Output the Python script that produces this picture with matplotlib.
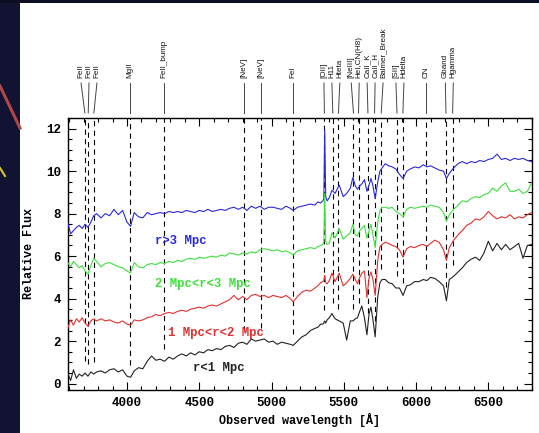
import numpy as np
import matplotlib
matplotlib.use("Agg")
import matplotlib.pyplot as plt
from matplotlib.ticker import MultipleLocator
from matplotlib.transforms import blended_transform_factory
from matplotlib.patches import Rectangle
from matplotlib.lines import Line2D

# ---------------- data ----------------
wavelength = [
    3590, 3610, 3630, 3650, 3670, 3690, 3710, 3730, 3750, 3770,
    3790, 3820, 3850, 3880, 3910, 3940, 3970, 4000, 4025, 4050,
    4080, 4110, 4140, 4170, 4200, 4230, 4260, 4290, 4320, 4350,
    4380, 4410, 4440, 4470, 4500, 4530, 4560, 4590, 4620, 4650,
    4680, 4710, 4740, 4770, 4800, 4830, 4860, 4890, 4920, 4950,
    4980, 5010, 5040, 5070, 5100, 5130, 5150, 5180, 5210, 5240,
    5270, 5300, 5320, 5340, 5355, 5362, 5368, 5375, 5385, 5400,
    5418, 5440, 5468, 5496, 5520, 5545, 5563, 5580, 5595, 5610,
    5625, 5643, 5660, 5675, 5688, 5702, 5717, 5735, 5750, 5765,
    5787, 5810, 5835, 5860, 5885, 5910, 5935, 5960, 5990, 6020,
    6050, 6075, 6100, 6130, 6160, 6190, 6210, 6230, 6260, 6290,
    6320, 6350, 6380, 6410, 6440, 6470, 6500, 6530, 6560, 6590,
    6620, 6650, 6680, 6710, 6740, 6770, 6800,
]

flux_gt3 = [  # r>3 Mpc (blue)
    7.6, 7.05, 7.2, 7.35, 7.45, 7.3, 7.5, 7.35, 7.6, 7.9,
    8.0, 7.8, 8.0, 7.9, 8.2, 7.95, 8.15, 7.6, 7.4, 8.05,
    7.85, 7.8, 8.05, 7.95, 8.0, 8.05, 8.0, 8.1, 8.05, 8.1,
    8.05, 8.15, 8.1, 8.05, 8.15, 8.1, 8.2, 8.1, 8.15, 8.2,
    8.15, 8.25, 8.3, 8.2, 8.3, 8.15, 8.35, 8.25, 8.35, 8.2,
    8.3, 8.3, 8.25, 8.2, 8.35, 8.25, 8.15, 8.3, 8.35, 8.4,
    8.45, 8.4, 8.55, 8.5, 8.6, 8.7, 11.95, 8.8, 8.6, 8.75,
    9.1, 8.95, 9.35, 8.8, 8.95, 9.2, 9.7, 9.3, 9.15, 9.3,
    9.4, 9.6, 9.05, 9.35, 9.65, 9.3, 8.7, 9.5, 10.0, 10.15,
    10.35, 10.25, 10.2, 10.1, 9.85, 9.65, 10.0, 10.1, 10.2, 10.15,
    10.3, 10.2, 10.25, 10.15, 10.05, 10.0, 9.65, 9.9, 10.15, 10.35,
    10.45, 10.35, 10.45, 10.4, 10.5, 10.45, 10.55, 10.6, 10.8, 10.55,
    10.6, 10.5, 10.6, 10.55, 10.6, 10.5, 10.45,
]

flux_2to3 = [  # 2 Mpc<r<3 Mpc (green)
    5.7, 5.5, 5.75, 5.6, 5.45, 5.55, 5.3, 5.15, 5.55, 5.9,
    5.75, 5.5, 5.65, 5.7, 5.6, 5.5, 5.45, 5.3, 5.2, 5.7,
    5.5, 5.45, 5.6, 5.65, 5.6, 5.7, 5.65, 5.75, 5.7, 5.8,
    5.75, 5.85, 5.9, 5.85, 5.95, 5.9, 5.95, 6.0, 5.95, 6.05,
    6.0, 6.15, 6.1, 6.05, 6.15, 6.1, 6.2, 6.15, 6.3, 6.35,
    6.3, 6.25, 6.3, 6.2, 6.25, 6.15, 6.05, 6.25, 6.3, 6.35,
    6.4, 6.35, 6.45, 6.5, 6.55, 6.65, 8.95, 6.7, 6.55, 6.6,
    7.1, 6.85, 7.3, 6.8, 6.95, 7.1, 7.5, 7.0, 6.95, 7.2,
    7.3, 7.45, 6.85, 7.2, 7.5, 7.0, 6.4, 7.6, 8.15, 8.3,
    8.3, 8.25, 8.3, 8.1, 8.0, 7.85, 8.2, 8.3, 8.25, 8.3,
    8.35, 8.3, 8.4, 8.35, 8.3, 8.05, 7.65, 7.95, 8.2, 8.4,
    8.6, 8.55, 8.7, 8.8, 8.75, 8.9, 8.95, 9.2, 9.05, 9.3,
    9.45, 9.05, 9.05, 9.15, 8.95, 9.05, 9.45,
]

flux_1to2 = [  # 1 Mpc<r<2 Mpc (red)
    2.6, 3.0, 2.75, 3.05, 2.9, 3.1, 2.85, 2.7, 2.95, 3.05,
    2.95, 3.05, 2.95, 3.0, 2.9, 2.85, 2.95, 2.8, 2.75, 3.0,
    2.95, 3.0, 3.1, 3.15, 3.25, 3.2, 3.3, 3.35, 3.3, 3.4,
    3.45, 3.4, 3.5, 3.55, 3.6, 3.55, 3.65, 3.7, 3.65, 3.75,
    3.85, 3.95, 4.15, 3.95, 4.1, 3.95, 4.15, 4.2, 4.1, 4.15,
    4.05, 4.15, 4.1, 4.05, 4.15, 4.0, 3.85, 4.1, 4.3, 4.4,
    4.35, 4.5, 4.6, 4.75, 4.8, 4.85, 5.1, 4.75, 4.7, 4.85,
    5.2, 4.8, 5.2, 4.6, 4.75, 4.95, 5.15, 4.9, 4.7, 5.0,
    5.2, 5.3, 4.05, 5.0, 5.25, 4.9, 4.15, 5.8, 6.45, 6.55,
    6.65, 6.6, 6.5, 6.45, 6.3, 5.95, 6.35, 6.45, 6.4, 6.5,
    6.55, 6.45, 6.6, 6.75, 6.65, 6.3, 5.8, 6.4, 6.75, 7.0,
    7.2, 7.45, 7.55, 7.75, 7.7, 7.85, 8.1, 7.9, 7.75, 7.85,
    7.8, 7.95, 7.75, 7.85, 7.8, 7.95, 8.05,
]

flux_lt1 = [  # r<1 Mpc (black)
    0.5, 0.15, 0.65, 0.25, 0.45, 0.35, 0.5, 0.35, 0.55, 0.45,
    0.55, 0.6, 0.5, 0.65, 0.7, 0.55, 0.65, 0.35, 0.3, 0.6,
    0.75, 0.7, 1.05, 1.3, 1.1, 1.15, 1.05, 1.25, 1.15, 1.3,
    1.4, 1.3, 1.45, 1.35, 1.5, 1.45, 1.6, 1.55, 1.65, 1.6,
    1.75, 1.8, 1.7, 1.9, 1.95, 1.85, 2.1, 2.0, 2.05, 2.1,
    1.95, 2.0, 1.85, 1.95, 1.9, 1.85, 1.8, 2.0, 2.2, 2.3,
    2.5, 2.6, 2.65, 2.8, 2.8, 2.85, 2.95, 2.85, 3.0, 3.1,
    3.3, 3.05, 2.95, 2.85, 2.05, 2.95, 2.95, 3.05, 3.1, 3.4,
    3.65, 3.1, 2.3, 3.3, 3.6, 3.0, 2.2, 4.1, 4.75, 4.9,
    4.9, 4.75, 4.7, 4.5, 4.5, 4.15, 4.6, 4.65, 4.8, 4.8,
    4.9, 4.85, 5.0, 4.95, 4.8, 4.6, 3.9, 4.9, 5.05, 5.25,
    5.45, 5.7, 5.85, 5.95, 5.8, 6.15, 6.7, 6.25, 6.6, 6.3,
    6.55, 6.3, 6.45, 6.6, 5.9, 6.5, 6.55,
]

series_labels = ["r>3 Mpc", "2 Mpc<r<3 Mpc", "1 Mpc<r<2 Mpc", "r<1 Mpc"]
series_colors = ["#2a2ad8", "#3ee03e", "#e03030", "#222222"]

line_names = ["FeII", "FeII", "FeII", "MgII", "FeII_bump", "[NeV]", "[NeV]",
              "FeI", "[OII]", "H11", "Hteta", "[NeIII]", "HeI,CN(H8)",
              "CaII_K", "CaII_H", "Balmer_Break", "[SII]", "Hdelta", "CN",
              "Gband", "Hgamma"]
line_wavelengths = [3709, 3732, 3771, 4021, 4258, 4812, 4928, 5147, 5366,
                    5424, 5463, 5567, 5602, 5667, 5713, 5759, 5868, 5909,
                    6071, 6207, 6253]

# ---------------- figure ----------------
W, H = 539, 433
fig = plt.figure(figsize=(W / 100, H / 100), dpi=100)
fig.patch.set_facecolor("white")

# slide background remnants (dark strip on the left / top)
fig.patches.append(Rectangle((0, 0), 20 / W, 1, transform=fig.transFigure,
                             facecolor="#121233", edgecolor="none", zorder=-5))
fig.patches.append(Rectangle((0, 1 - 3 / H), 1, 3 / H, transform=fig.transFigure,
                             facecolor="#0c0c22", edgecolor="none", zorder=-5))
fig.lines.append(Line2D([0, 20 / W], [1 - 86 / H, 1 - 128 / H],
                        transform=fig.transFigure, color="#b04848", lw=2.2))
fig.lines.append(Line2D([0, 5 / W], [1 - 168 / H, 1 - 176 / H],
                        transform=fig.transFigure, color="#d8c830", lw=1.5))

left, right, top, bottom = 67.7, 531.7, 118, 390
ax = fig.add_axes([left / W, 1 - bottom / H, (right - left) / W, (bottom - top) / H])

plt.rcParams["lines.scale_dashes"] = False
mono = "Liberation Mono"

wl = np.array(wavelength)
for flux, col in zip([flux_gt3, flux_2to3, flux_1to2, flux_lt1], series_colors):
    ax.plot(wl, flux, color=col, lw=0.8, zorder=3)

ax.set_xlim(3590, 6800)
ax.set_ylim(-0.3, 12.5)

# dashed marker lines: from the top down to just above the lowest spectrum
low = np.interp(line_wavelengths, wl, flux_lt1)
for lw_, lo in zip(line_wavelengths, low):
    ax.plot([lw_, lw_], [lo + 0.55, 12.5], color="black", lw=0.8,
            linestyle=(0, (3.8, 3.0)), zorder=2)

# label spreading
def spread(pos, d):
    p = [float(v) for v in pos]
    for _ in range(500):
        moved = False
        for i in range(len(p) - 1):
            gap = p[i + 1] - p[i]
            if gap < d - 1e-6:
                s = (d - gap) / 2
                p[i] -= s
                p[i + 1] += s
                moved = True
        if not moved:
            break
    return p

lab_pos = spread(line_wavelengths, 55.0)
trans = blended_transform_factory(ax.transData, ax.transAxes)
y_lab = (bottom - 78) / (bottom - top)
y_c1 = (bottom - 83) / (bottom - top)
y_c2 = (bottom - 113) / (bottom - top)
for name, lx, x0 in zip(line_names, lab_pos, line_wavelengths):
    ax.plot([lx, x0], [y_c1, y_c2], transform=trans, color="#444444", lw=0.7,
            clip_on=False)
    ax.text(lx, y_lab, name, rotation=90, ha="center", va="bottom",
            transform=trans, fontsize=5.8, family="Liberation Sans",
            color="#111111")

# series labels
text_pos = [(4194, 6.73), (4194, 4.7), (4284, 2.4), (4457, 0.75)]
for (tx, ty), lab, col in zip(text_pos, series_labels, series_colors):
    ax.text(tx, ty, lab, color=col, fontsize=8.8, family=mono,
            ha="left", va="center", fontweight="bold")

# axes styling
ax.xaxis.set_major_locator(MultipleLocator(500))
ax.xaxis.set_minor_locator(MultipleLocator(100))
ax.yaxis.set_major_locator(MultipleLocator(2))
ax.yaxis.set_minor_locator(MultipleLocator(0.5))
ax.tick_params(which="both", direction="in", top=True, right=True,
               color="black", width=0.8)
ax.tick_params(which="major", length=6, labelsize=9, pad=5)
ax.tick_params(which="minor", length=3)
for lab in ax.get_xticklabels() + ax.get_yticklabels():
    lab.set_family(mono)
    lab.set_fontweight("bold")
for sp in ax.spines.values():
    sp.set_linewidth(1.0)

ax.set_xlabel("Observed wavelength [Å]", family=mono, fontsize=8.5,
              fontweight="bold", labelpad=3)
ax.set_ylabel("Relative Flux", family=mono, fontsize=8.5, fontweight="bold",
              labelpad=8)

fig.savefig("out.png", dpi=100)
